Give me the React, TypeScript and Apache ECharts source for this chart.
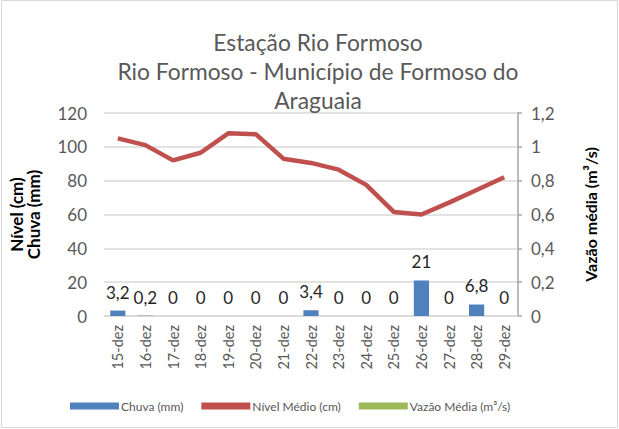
import React, { useEffect, useRef } from "react";
import * as echarts from "echarts";

const categories = ["15-dez","16-dez","17-dez","18-dez","19-dez","20-dez","21-dez","22-dez","23-dez","24-dez","25-dez","26-dez","27-dez","28-dez","29-dez"];
const chuva = [3.2, 0.2, 0, 0, 0, 0, 0, 3.4, 0, 0, 0, 21, 0, 6.8, 0];
const nivel = [105, 101, 92, 96.5, 108, 107.5, 93, 90.5, 86.5, 77.5, 61.5, 60, 67, 74.5, 82];
const vazao: (number | null)[] = [null, null, null, null, null, null, null, null, null, null, null, null, null, null, null];
const leftTicks = [0, 20, 40, 60, 80, 100, 120];
const rightTicks = [0, 0.2, 0.4, 0.6, 0.8, 1, 1.2];

const FONT = "Lato";
const GRAY = "#595959";

const fmt = (v: number) => String(v).replace(".", ",");

export default function App() {
  const ref = useRef<HTMLDivElement>(null);
  useEffect(() => {
    document.body.style.margin = "0";
    const chart = echarts.init(ref.current!, undefined, { renderer: "svg" });
    chart.setOption({
      animation: false,
      backgroundColor: "#fff",
      textStyle: { fontFamily: FONT },
      title: {
        text: "Estação Rio Formoso\nRio Formoso - Município de Formoso do\nAraguaia",
        left: 313,
        textAlign: "center",
        top: 22,
        textStyle: { fontFamily: FONT, fontSize: 22.8, fontWeight: "normal", color: GRAY, lineHeight: 29 },
      },
      graphic: [
        { type: "rect", shape: { x: 1.5, y: 0.5, width: 616, height: 427 }, style: { fill: "none", stroke: "#d9d9d9", lineWidth: 1 }, silent: true },
      ],
      legend: {
        bottom: 12,
        left: 65,
        itemGap: 18,
        itemWidth: 49,
        itemHeight: 7,
        textStyle: { fontFamily: FONT, fontSize: 12, color: GRAY, padding: [0, 0, 0, -3] },
        data: [
          { name: "Chuva (mm)", icon: "rect" },
          { name: "Nível Médio (cm)", icon: "rect", itemStyle: { color: "#c0504d" } },
          { name: "Vazão Média (m³/s)", icon: "rect", itemStyle: { color: "#9bbb59" } },
        ],
      },
      grid: { left: 103, right: 101, top: 113, bottom: 113 },
      xAxis: {
        type: "category",
        data: categories,
        axisLine: { show: true, lineStyle: { color: "#d9d9d9", width: 1.5 } },
        axisTick: { show: false },
        axisLabel: { rotate: 90, color: GRAY, fontSize: 14.5, fontFamily: FONT, margin: 9 },
      },
      yAxis: [
        {
          type: "value",
          min: leftTicks[0],
          max: leftTicks[leftTicks.length - 1],
          interval: 20,
          name: "Nível (cm)\nChuva (mm)",
          nameLocation: "middle",
          nameGap: 62,
          nameTextStyle: { fontFamily: FONT, fontSize: 17, fontWeight: "bold", color: "#000", lineHeight: 17 },
          axisLine: { show: false },
          axisTick: { show: false },
          axisLabel: { color: GRAY, fontSize: 17, fontFamily: FONT, margin: 17 },
          splitLine: { lineStyle: { color: "#d9d9d9", width: 1.5 } },
        },
        {
          type: "value",
          min: rightTicks[0],
          max: rightTicks[rightTicks.length - 1],
          interval: 0.2,
          position: "right",
          name: "Vazão média (m³/s)",
          nameLocation: "middle",
          nameGap: 64,
          nameTextStyle: { fontFamily: FONT, fontSize: 16, fontWeight: "bold", color: "#000" },
          axisLine: { show: true, lineStyle: { color: "#a6a6a6", width: 1.5 } },
          axisTick: { show: true, length: 4, lineStyle: { color: "#a6a6a6", width: 1.5 } },
          axisLabel: { color: GRAY, fontSize: 17, fontFamily: FONT, margin: 13, formatter: (v: number) => fmt(Math.round(v * 10) / 10) },
          splitLine: { show: false },
        },
      ],
      series: [
        {
          name: "Chuva (mm)",
          type: "bar",
          data: chuva,
          barWidth: "55%",
          itemStyle: { color: "#4f81bd" },
          label: {
            show: true,
            position: "top",
            distance: 10,
            color: "#262626",
            fontSize: 17,
            fontFamily: FONT,
            formatter: (p: any) => fmt(p.value),
          },
        },
        {
          name: "Nível Médio (cm)",
          type: "line",
          data: nivel,
          symbol: "none",
          lineStyle: { color: "#c0504d", width: 4.5 },
          itemStyle: { color: "#c0504d" },
        },
        {
          name: "Vazão Média (m³/s)",
          type: "line",
          yAxisIndex: 1,
          data: vazao,
          symbol: "none",
          lineStyle: { color: "#9bbb59", width: 4 },
          itemStyle: { color: "#9bbb59" },
        },
      ],
    });
    return () => chart.dispose();
  }, []);
  return <div ref={ref} style={{ width: 619, height: 429 }} />;
}
